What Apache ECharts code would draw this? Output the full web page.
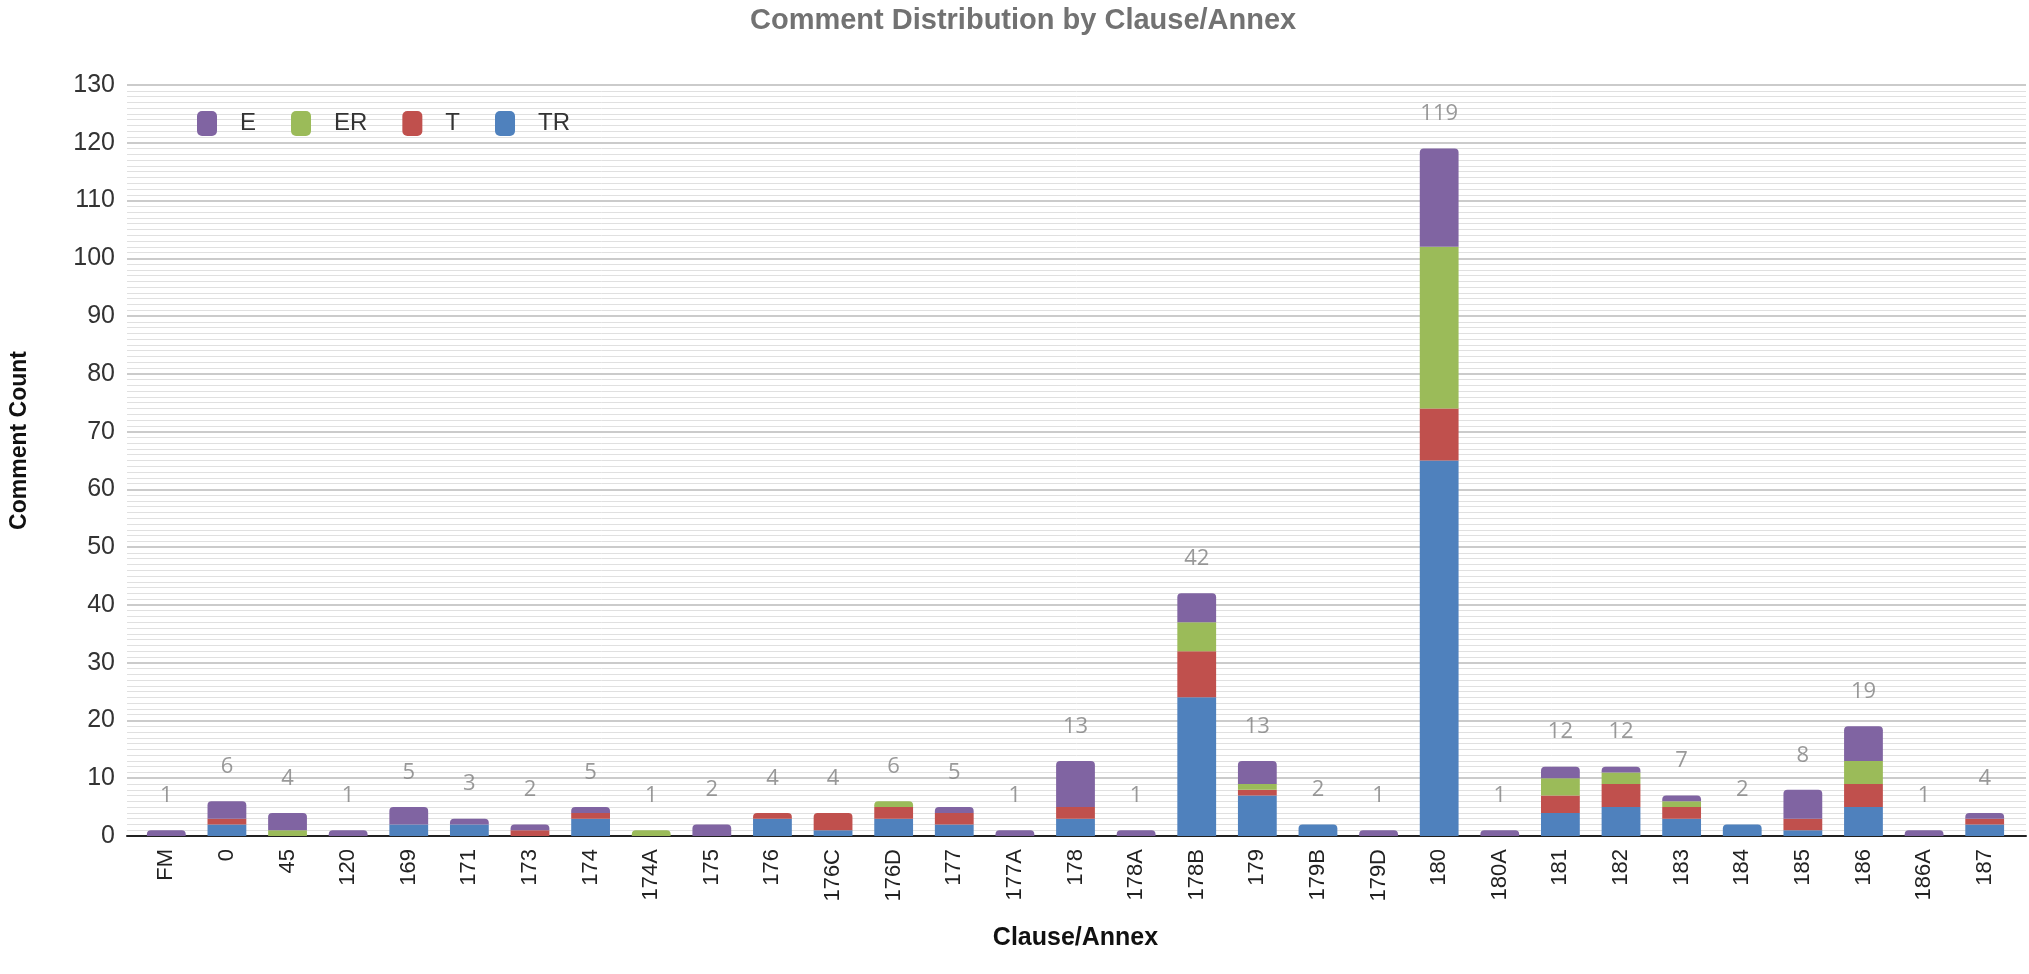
<!DOCTYPE html>
<html>
<head>
<meta charset="utf-8">
<script src="https://cdn.jsdelivr.net/npm/echarts@6/dist/echarts.min.js"></script>
<style>
html,body{margin:0;padding:0;background:#fff;}
#chart{width:2029px;height:974px;}
</style>
</head>
<body>
<div id="chart"></div>
<script>
const categories = ['FM','0','45','120','169','171','173','174','174A','175','176','176C','176D','177','177A','178','178A','178B','179','179B','179D','180','180A','181','182','183','184','185','186','186A','187'];
const TR = [0,2,0,0,2,2,0,3,0,0,3,1,3,2,0,3,0,24,7,2,0,65,0,4,5,3,2,1,5,0,2];
const T  = [0,1,0,0,0,0,1,1,0,0,1,3,2,2,0,2,0,8,1,0,0,9,0,3,4,2,0,2,4,0,1];
const ER = [0,0,1,0,0,0,0,0,1,0,0,0,1,0,0,0,0,5,1,0,0,28,0,3,2,1,0,0,4,0,0];
const E  = [1,3,3,1,3,1,1,1,0,2,0,0,0,1,1,8,1,5,4,0,1,17,1,2,1,1,0,5,6,1,1];
const yTicks = {min:0, max:130, interval:10};

const stackOrder = [
  {name:'TR', data:TR, color:'#4f81bd'},
  {name:'T',  data:T,  color:'#c0504d'},
  {name:'ER', data:ER, color:'#9bbb59'},
  {name:'E',  data:E,  color:'#8064a2'}
];
const totals = categories.map((c,i)=>stackOrder.reduce((s,sr)=>s+sr.data[i],0));

function topIndex(i){
  let top=-1;
  stackOrder.forEach((sr,k)=>{ if(sr.data[i]>0) top=k; });
  return top;
}

const series = stackOrder.map((sr,k)=>({
  name: sr.name,
  type: 'bar',
  stack: 'total',
  xAxisIndex: 1, yAxisIndex: 1,
  barWidth: '64%',
  itemStyle: {color: sr.color},
  data: sr.data.map((v,i)=>({
    value: v,
    itemStyle: topIndex(i)===k ? {borderRadius:[4,4,0,0]} : {borderRadius:0}
  }))
}));
series.push({
  name: 'Total',
  type: 'scatter',
  xAxisIndex: 1, yAxisIndex: 1,
  data: totals,
  symbolSize: 1,
  itemStyle: {color: 'rgba(0,0,0,0)'},
  silent: true,
  label: {
    show: true, position: 'top', distance: 23,
    color: '#7f7f7f', fontSize: 22, fontFamily: 'Open Sans'
  },
  labelLayout: {hideOverlap: false},
  z: 5
});

const chart = echarts.init(document.getElementById('chart'));
chart.setOption({
  animation: false,
  backgroundColor: '#ffffff',
  title: {
    text: 'Comment Distribution by Clause/Annex',
    left: 745, top: 1,
    textStyle: {color:'#727272', fontSize: 29, fontWeight:'bold', fontFamily:'Liberation Sans'}
  },
  legend: {
    data: ['E','ER','T','TR'],
    left: 192, top: 106,
    itemWidth: 20, itemHeight: 25, itemGap: 35,
    icon: 'roundRect',
    textStyle: {fontSize: 24, color:'#333', fontFamily:'Liberation Sans', padding:[0,0,0,18]}
  },
  grid: [
    {left: 127, right: 3, top: 85, bottom: 138, containLabel: false},
    {left: 136, right: 14, top: 85, bottom: 138, containLabel: false}
  ],
  xAxis: [
    {
      type: 'value', gridIndex: 0, min: 0, max: 1,
      axisLine: {show: true, onZero: false, lineStyle: {color:'#222', width: 2}},
      axisTick: {show: false}, axisLabel: {show: false}, splitLine: {show: false}
    },
    {
      type: 'category', gridIndex: 1,
      data: categories,
      name: 'Clause/Annex',
      nameLocation: 'middle',
      nameGap: 90,
      nameTextStyle: {fontSize: 25, fontWeight:'bold', color:'#111', fontFamily:'Liberation Sans'},
      axisLine: {show: false},
      axisTick: {show: false},
      axisLabel: {rotate: 90, fontSize: 22, color:'#222', fontFamily:'Liberation Sans', margin: 13, interval: 0}
    }
  ],
  yAxis: [
    {
      type: 'value', gridIndex: 0,
      min: yTicks.min, max: yTicks.max, interval: yTicks.interval,
      name: 'Comment Count',
      nameLocation: 'middle',
      nameGap: 96,
      nameTextStyle: {fontSize: 23, fontWeight:'bold', color:'#111', fontFamily:'Liberation Sans', padding:[0,0,0,40]},
      axisLine: {show: false},
      axisTick: {show: false},
      axisLabel: {fontSize: 25, color:'#333', fontFamily:'Liberation Sans', margin: 12},
      splitLine: {lineStyle: {color:'#cbcbcb', width: 2}},
      minorTick: {show: false, splitNumber: 10},
      minorSplitLine: {show: true, lineStyle: {color:'#e0e0e0', width: 1}}
    },
    {
      type: 'value', gridIndex: 1,
      min: yTicks.min, max: yTicks.max, interval: yTicks.interval,
      show: false, splitLine: {show: false}
    }
  ],
  series: series
});
</script>
</body>
</html>
